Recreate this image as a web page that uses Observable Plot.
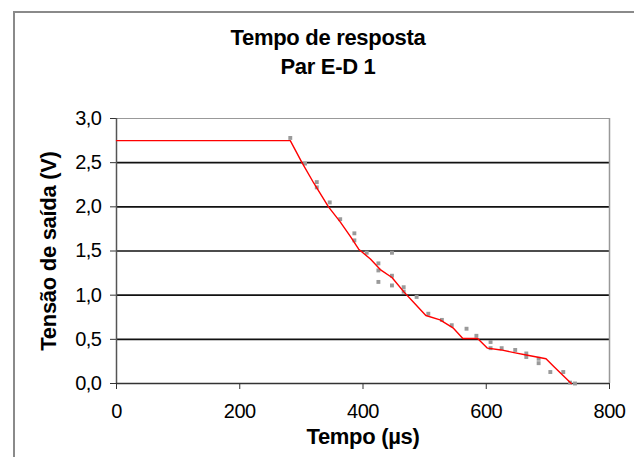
<!DOCTYPE html>
<html>
<head>
<meta charset="utf-8">
<script src="https://cdn.jsdelivr.net/npm/d3@7"></script>
<script src="https://cdn.jsdelivr.net/npm/@observablehq/plot@0.6"></script>
<style>
  html, body { margin: 0; padding: 0; background: #fff; }
  #wrap { position: relative; width: 634px; height: 457px; overflow: hidden; background: #fff;
          font-family: "Liberation Sans", Arial, sans-serif; }
  #frame { position: absolute; left: 13px; top: 11px; width: 700px; height: 500px;
           border-left: 2px solid #8a8a8a; border-top: 2px solid #8a8a8a; box-sizing: border-box; }
  #title { position: absolute; left: 13px; width: 630px; top: 23px; text-align: center;
           font-weight: bold; font-size: 22px; line-height: 29px; color: #000; letter-spacing: -0.3px; }
  #chart { position: absolute; left: 0; top: 100px; }
</style>
</head>
<body>
<div id="wrap">
  <div id="frame"></div>
  <div id="title">Tempo de resposta<br>Par E-D 1</div>
  <div id="chart"></div>
</div>
<script>
// Fitted curve (red line): time (µs), voltage (V)
const lineTime = [0, 282, 301, 320, 344, 363, 380, 393, 412, 428, 447, 466, 482, 502, 525, 546, 562, 586, 602, 624, 645, 667, 697, 710, 738];
const lineVolt = [2.75, 2.75, 2.5, 2.27, 2.0, 1.83, 1.66, 1.52, 1.41, 1.29, 1.2, 1.04, 0.92, 0.77, 0.72, 0.63, 0.51, 0.51, 0.4, 0.38, 0.35, 0.32, 0.28, 0.19, 0.0];

// Measured points (grey markers)
const ptTime = [282, 306, 325, 325, 346, 363, 386, 386, 406, 425, 425, 425, 447, 447, 447, 466, 466, 487, 506, 528, 544, 568, 584, 607, 607, 625, 647, 665, 665, 685, 685, 704, 725, 736, 744];
const ptVolt = [2.78, 2.49, 2.28, 2.22, 2.05, 1.86, 1.70, 1.62, 1.48, 1.36, 1.28, 1.15, 1.48, 1.22, 1.11, 1.09, 1.04, 0.98, 0.79, 0.72, 0.66, 0.62, 0.54, 0.47, 0.40, 0.40, 0.38, 0.34, 0.30, 0.28, 0.23, 0.13, 0.13, 0.01, 0.0];

const xTicks = [0, 200, 400, 600, 800];
const yTicks = [0, 0.5, 1.0, 1.5, 2.0, 2.5, 3.0];
const gridY = [0.5, 1.0, 1.5, 2.0, 2.5];

const lineData = lineTime.map((t, i) => ({t, v: lineVolt[i]}));
const ptData = ptTime.map((t, i) => ({t, v: ptVolt[i]}));

const fmt = d => d.toFixed(1).replace(".", ",");

const chart = Plot.plot({
  width: 634,
  height: 357,
  marginLeft: 116,
  marginRight: 25,
  marginTop: 18,
  marginBottom: 74,
  style: {fontFamily: "'Liberation Sans', Arial, sans-serif", fontSize: "20px", color: "#000", background: "transparent", overflow: "visible"},
  x: {domain: [0, 800], ticks: xTicks},
  y: {domain: [0, 3], ticks: yTicks},
  marks: [
    Plot.ruleY(gridY, {stroke: "#111", strokeWidth: 1.7}),
    Plot.ruleY([3], {stroke: "#999", strokeWidth: 1.2}),
    Plot.ruleX([800], {stroke: "#999", strokeWidth: 1.5}),
    Plot.axisX({ticks: xTicks, tickSize: 6, tickPadding: 14, stroke: "#333", fontSize: 20,
                label: "Tempo (µs)", labelAnchor: "center", labelArrow: "none", labelOffset: 60}),
    Plot.axisY({ticks: yTicks, tickSize: 6, tickPadding: 9, tickFormat: fmt, stroke: "#333", fontSize: 20,
                label: "Tensão de saída (V)", labelAnchor: "center", labelArrow: "none", labelOffset: 76}),
    Plot.ruleX([0], {stroke: "#555", strokeWidth: 1.5}),
    Plot.ruleY([0], {stroke: "#333", strokeWidth: 1.7}),
    Plot.dot(ptData, {x: "t", y: "v", symbol: "square", r: 2.2, fill: "#9a9a9a", stroke: "none"}),
    Plot.line(lineData, {x: "t", y: "v", stroke: "#ff0000", strokeWidth: 1.4})
  ]
});
// bold axis labels
chart.querySelectorAll("g[aria-label='x-axis label'] text, g[aria-label='y-axis label'] text").forEach(t => {
  t.setAttribute("font-weight", "bold");
  t.setAttribute("font-size", "22");
  t.setAttribute("letter-spacing", "-0.3");
});
chart.querySelectorAll("g[aria-label='x-axis tick label'] text, g[aria-label='y-axis tick label'] text").forEach(t => {
  t.setAttribute("letter-spacing", "-0.5");
});
document.getElementById("chart").appendChild(chart);
</script>
</body>
</html>
